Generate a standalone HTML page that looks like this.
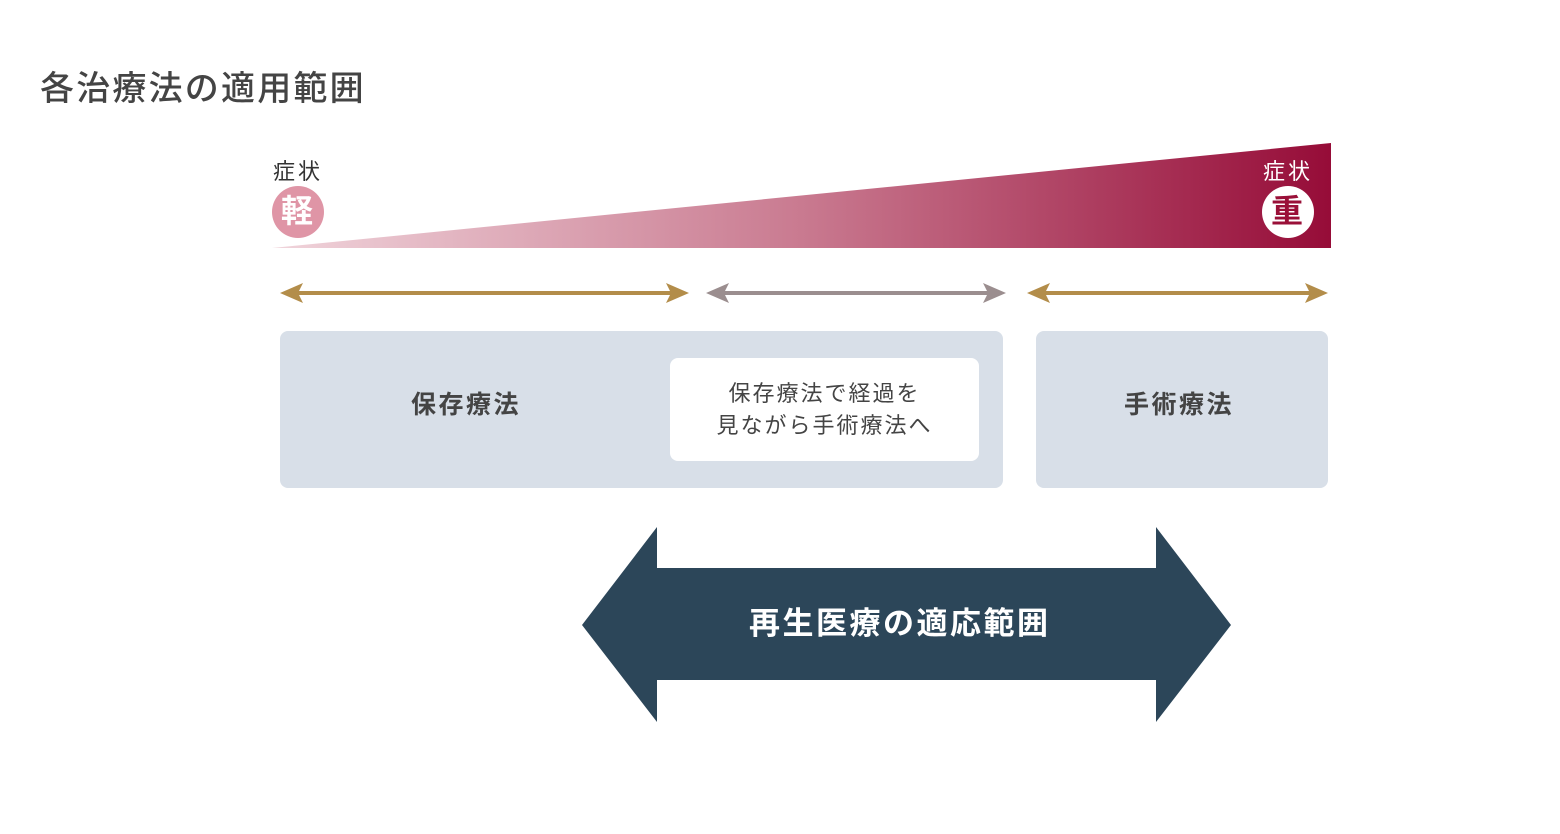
<!DOCTYPE html>
<html><head><meta charset="utf-8"><style>
html,body{margin:0;padding:0;background:#fff;width:1560px;height:834px;overflow:hidden;position:relative}
*{font-family:"Liberation Sans","Noto Sans CJK JP",sans-serif}
.t{position:absolute;white-space:nowrap;line-height:1}
</style></head><body>
<div class="t" style="left:40px;top:72px;font-size:34px;color:#444;letter-spacing:2.2px;font-weight:500">各治療法の適用範囲</div>
<svg width="1560" height="834" style="position:absolute;left:0;top:0">
<defs><linearGradient id="g" x1="272" y1="0" x2="1331" y2="0" gradientUnits="userSpaceOnUse">
<stop offset="0" stop-color="#f0d4db"/><stop offset="0.5" stop-color="#c97a90"/><stop offset="1" stop-color="#960c38"/></linearGradient></defs>
<polygon points="272,248 1331,143 1331,248" fill="url(#g)"/>
<circle cx="298" cy="212" r="26" fill="#df95a6"/>
<circle cx="1288" cy="212" r="26" fill="#fff"/>
<g stroke-width="4">
<line x1="295" y1="293" x2="675" y2="293" stroke="#b38d4a"/>
<line x1="720" y1="293" x2="992" y2="293" stroke="#9b8e8f"/>
<line x1="1041" y1="293" x2="1314" y2="293" stroke="#b38d4a"/>
</g>
<polygon points="280,293 303,283 298,293 303,303" fill="#b38d4a"/>
<polygon points="689,293 666,283 671,293 666,303" fill="#b38d4a"/>
<polygon points="706,293 729,283 724,293 729,303" fill="#9b8e8f"/>
<polygon points="1006,293 983,283 988,293 983,303" fill="#9b8e8f"/>
<polygon points="1027,293 1050,283 1045,293 1050,303" fill="#b38d4a"/>
<polygon points="1328,293 1305,283 1310,293 1305,303" fill="#b38d4a"/>
<rect x="280" y="331" width="723" height="157" rx="8" fill="#d8dfe8"/>
<rect x="670" y="358" width="309" height="103" rx="8" fill="#fff"/>
<rect x="1036" y="331" width="292" height="157" rx="8" fill="#d8dfe8"/>
<polygon points="582,625 657,527 657,568 1156,568 1156,527 1231,625 1156,722 1156,680 657,680 657,722" fill="#2c4659"/>
</svg>
<div class="t" style="left:273px;top:161px;font-size:22px;color:#333;letter-spacing:3px">症状</div>
<div class="t" style="left:281px;top:195px;font-size:32px;color:#fff;font-weight:bold">軽</div>
<div class="t" style="left:1263px;top:161px;font-size:22px;color:#fff;letter-spacing:3px">症状</div>
<div class="t" style="left:1271px;top:195px;font-size:32px;color:#9a1038;font-weight:bold">重</div>
<div class="t" style="left:411px;top:393px;font-size:25px;color:#444;font-weight:bold;letter-spacing:2.5px">保存療法</div>
<div class="t" style="left:1124px;top:393px;font-size:25px;color:#444;font-weight:bold;letter-spacing:2.5px">手術療法</div>
<div class="t" style="left:670px;width:309px;top:378px;font-size:22px;color:#444;text-align:center;line-height:32px;letter-spacing:2px">保存療法で経過を<br>見ながら手術療法へ</div>
<div class="t" style="left:749px;top:608px;font-size:31px;color:#fff;font-weight:bold;letter-spacing:2.5px">再生医療の適応範囲</div>
</body></html>
